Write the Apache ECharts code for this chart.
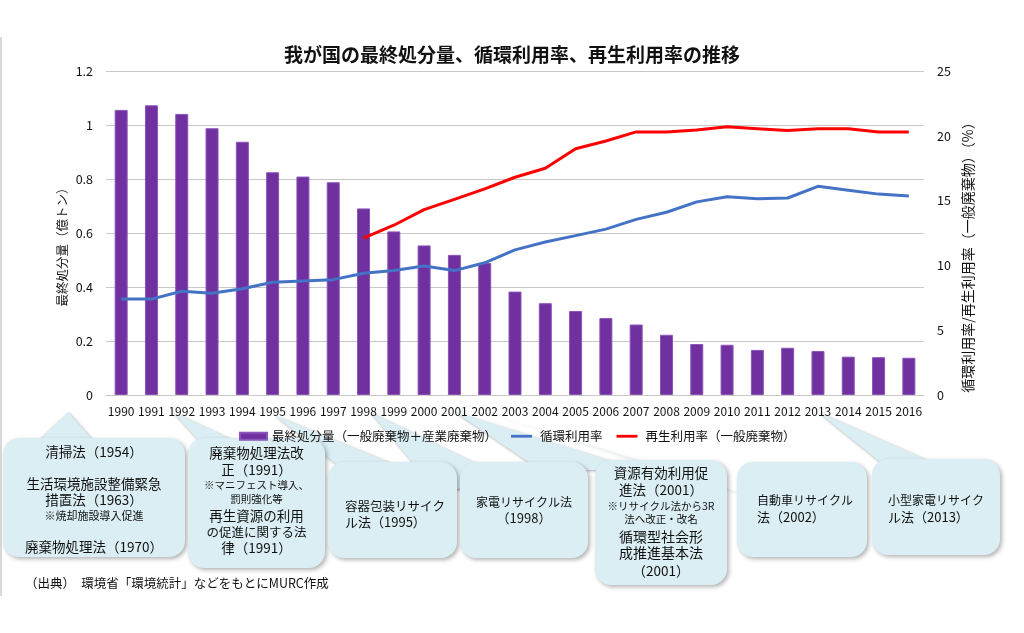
<!DOCTYPE html>
<html><head><meta charset="utf-8">
<script src="https://cdn.jsdelivr.net/npm/echarts@6/dist/echarts.min.js"></script>
<style>html,body{margin:0;padding:0;background:#fff}#c{width:1024px;height:633px}</style>
</head><body><div id="c"></div>
<script>
const years = ['1990','1991','1992','1993','1994','1995','1996','1997','1998','1999','2000','2001','2002','2003','2004','2005','2006','2007','2008','2009','2010','2011','2012','2013','2014','2015','2016'];
const finalDisposal = [1.056,1.073,1.041,0.988,0.938,0.825,0.809,0.788,0.691,0.606,0.554,0.519,0.489,0.383,0.340,0.311,0.285,0.261,0.223,0.189,0.186,0.167,0.175,0.163,0.142,0.140,0.138];
const cyclicalUseRate = [7.4,7.4,8.0,7.85,8.2,8.7,8.8,8.9,9.4,9.6,9.95,9.6,10.2,11.2,11.8,12.3,12.8,13.55,14.1,14.9,15.3,15.15,15.2,16.1,15.8,15.5,15.35];
const recyclingRate = [null,null,null,null,null,null,null,null,12.1,13.1,14.3,15.1,15.9,16.8,17.5,19.0,19.6,20.3,20.3,20.45,20.7,20.55,20.4,20.55,20.55,20.3,20.3];
const leftTicks = {min:0, max:1.2, interval:0.2};
const rightTicks = {min:0, max:25, interval:5};
const seriesNames = ['最終処分量（一般廃棄物＋産業廃棄物）','循環利用率','再生利用率（一般廃棄物）'];
const titleText = '我が国の最終処分量、循環利用率、再生利用率の推移';
const leftAxisName = '最終処分量（億トン）';
const rightAxisName = '循環利用率/再生利用率（一般廃棄物）（%）';
const sourceText = '（出典）　環境省「環境統計」などをもとにMURC作成';
const callouts = [
  {box:[3,438,182,119], tail:[[68,412],[30,448],[100,448]], lines:[['清掃法（1954）',452,13.5],['生活環境施設整備緊急',484,13.5],['措置法（1963）',500,13.5],['※焼却施設導入促進',516,11],['廃棄物処理法（1970）',547,13.5]], align:'center'},
  {box:[188,438,137,130], tail:[[173,412],[205,448],[250,448]], lines:[['廃棄物処理法改',453,13.5],['正（1991）',470,13.5],['※マニフェスト導入、',485,10.5],['罰則強化等',499,10.5],['再生資源の利用',516,13.5],['の促進に関する法',532,12.5],['律（1991）',548,13.5]], align:'center'},
  {box:[328,462,129,96], tail:[[274,415],[350,475],[420,475]], lines:[['容器包装リサイク',506,12.5],['ル法（1995）',522,13]], align:'left', tx:345},
  {box:[460,462,128,96], tail:[[370,412],[440,495],[500,475]], lines:[['家電リサイクル法',502,12],['（1998）',518,13]], align:'center'},
  {box:[595,460,132,125], tail:[[455,412],[540,470],[640,470]], lines:[['資源有効利用促',473,13.5],['進法（2001）',490,13.5],['※リサイクル法から3R',506,10.5],['法へ改正・改名',519,10.5],['循環型社会形',537,14],['成推進基本法',553,14],['（2001）',571,13.5]], align:'center'},
  {box:[737,462,130,95], tail:[[485,412],[700,480],[760,500]], lines:[['自動車リサイクル',500,12],['法（2002）',517,13]], align:'left', tx:757},
  {box:[872,459,128,96], tail:[[818,412],[890,470],[950,470]], lines:[['小型家電リサイク',500,12],['ル法（2013）',517,13]], align:'left', tx:888}
];

const FONT = '"Noto Sans CJK JP","Noto Sans",sans-serif';
const LINE_ICON = 'path://M0,0M0,10M0,3L30,3L30,7L0,7Z';
const chart = echarts.init(document.getElementById('c'), null, {renderer:'canvas'});
const graphics = [];
graphics.push({type:'line', shape:{x1:1,y1:37,x2:1,y2:596}, style:{stroke:'#b0b0b0', lineWidth:1}, z:1});
callouts.forEach(c => {
  graphics.push({type:'polygon', shape:{points:c.tail}, style:{fill:'#daeef3', shadowBlur:3, shadowOffsetX:1, shadowOffsetY:1, shadowColor:'rgba(0,0,0,0.35)'}, z:1});
});
callouts.forEach(c => {
  const [x,y,w,h] = c.box;
  graphics.push({type:'rect', shape:{x:x,y:y,width:w,height:h,r:16}, style:{fill:'#daeef3', shadowBlur:4, shadowOffsetX:2, shadowOffsetY:2, shadowColor:'rgba(0,0,0,0.3)'}, z:5});
  c.lines.forEach(l => {
    graphics.push({type:'text', z:6, style:{text:l[0], x: c.align==='left' ? c.tx : x + w/2, y:l[1], fill:'#111', font:l[2]+'px '+FONT, textAlign:c.align, textVerticalAlign:'middle', verticalAlign:'middle'}});
  });
});
graphics.push({type:'text', z:6, style:{text:sourceText, x:25, y:583, fill:'#111', font:'12.5px '+FONT, textAlign:'left', textVerticalAlign:'middle', verticalAlign:'middle'}});
graphics.push({type:'text', z:6, rotation:Math.PI/2, x:62, y:244, style:{text:leftAxisName, x:0, y:0, fill:'#111', font:'12.5px '+FONT, textAlign:'center', textVerticalAlign:'middle', verticalAlign:'middle'}});
graphics.push({type:'text', z:6, rotation:Math.PI/2, x:968, y:254, style:{text:rightAxisName, x:0, y:0, fill:'#111', font:'14px '+FONT, textAlign:'center', textVerticalAlign:'middle', verticalAlign:'middle'}});

const option = {
  backgroundColor:'#fff',
  animation:false,
  textStyle:{fontFamily:FONT},
  title:{text:titleText, left:'center', top:40, textStyle:{fontFamily:FONT, fontSize:19, fontWeight:'bold', color:'#111'}},
  grid:{left:106, right:100, top:71, bottom:238},
  legend:{left:234, top:425, z:10, itemWidth:27, itemHeight:7, itemGap:14, textStyle:{fontFamily:FONT, fontSize:12.5, color:'#111'},
    data:[{name:seriesNames[0], icon:'rect'},{name:seriesNames[1], icon:LINE_ICON},{name:seriesNames[2], icon:LINE_ICON}]},
  xAxis:{type:'category', data:years, axisTick:{show:false}, axisLine:{lineStyle:{color:'#c8c8c8'}},
    axisLabel:{color:'#111', fontSize:12, fontFamily:FONT, margin:10, interval:0}, z:8},
  yAxis:[
    {type:'value', min:leftTicks.min, max:leftTicks.max, interval:leftTicks.interval, axisLine:{show:false}, axisTick:{show:false},
      splitLine:{lineStyle:{color:'#c8c8c8'}}, axisLabel:{color:'#111', fontSize:12.5, fontFamily:FONT, margin:13}},
    {type:'value', min:rightTicks.min, max:rightTicks.max, interval:rightTicks.interval, axisLine:{show:false}, axisTick:{show:false},
      splitLine:{show:false}, axisLabel:{color:'#111', fontSize:12.5, fontFamily:FONT, margin:13}}
  ],
  series:[
    {name:seriesNames[0], type:'bar', data:finalDisposal, yAxisIndex:0, barWidth:13,
      itemStyle:{color:'#7030a0', borderColor:'#8a55b8', borderWidth:1}},
    {name:seriesNames[1], type:'line', data:cyclicalUseRate, yAxisIndex:1, symbol:'none', lineStyle:{color:'#4472c4', width:3}, itemStyle:{color:'#4472c4'}, z:4},
    {name:seriesNames[2], type:'line', data:recyclingRate, yAxisIndex:1, symbol:'none', lineStyle:{color:'#ff0000', width:3}, itemStyle:{color:'#ff0000'}, z:4}
  ],
  graphic:{elements:graphics}
};
chart.setOption(option);
</script></body></html>
